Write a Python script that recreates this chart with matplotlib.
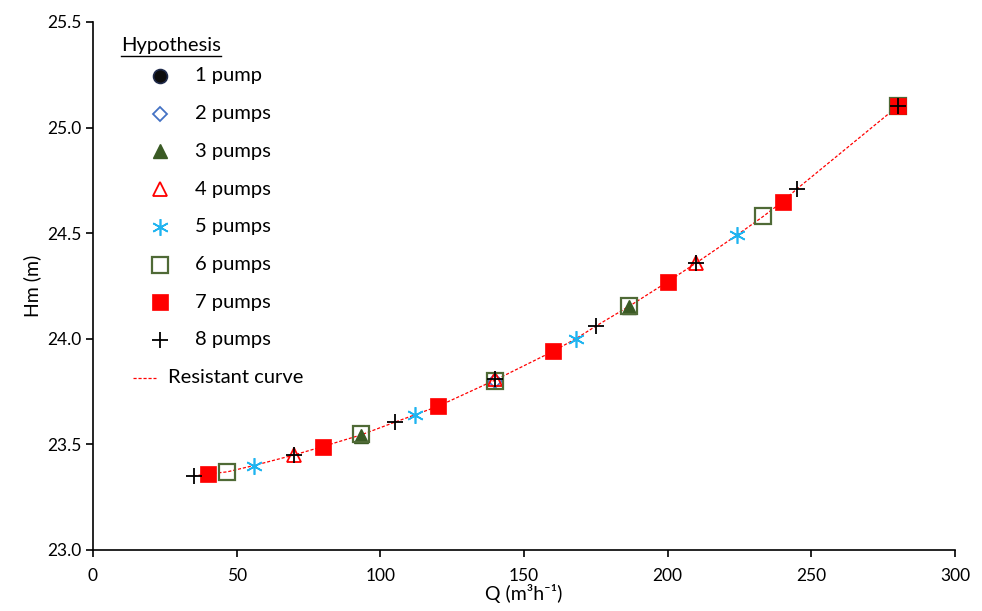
import matplotlib
matplotlib.use("Agg")
import matplotlib.pyplot as plt
from matplotlib.lines import Line2D

# ---- data ----
q1 = [280]
h1 = [25.10]
q2 = [140, 280]
h2 = [23.80, 25.10]
q3 = [93.3, 186.7, 280]
h3 = [23.54, 24.15, 25.10]
q4 = [70, 140, 210, 280]
h4 = [23.45, 23.81, 24.36, 25.10]
q5 = [56, 112, 168, 224, 280]
h5 = [23.40, 23.64, 24.00, 24.49, 25.10]
q6 = [46.7, 93.3, 140, 186.7, 233.3, 280]
h6 = [23.37, 23.55, 23.80, 24.155, 24.58, 25.10]
q7 = [40, 80, 120, 160, 200, 240, 280]
h7 = [23.36, 23.49, 23.68, 23.94, 24.27, 24.65, 25.10]
q8 = [35, 70, 105, 140, 175, 210, 245, 280]
h8 = [23.35, 23.45, 23.605, 23.81, 24.06, 24.36, 24.71, 25.10]
q_curve = [35, 40, 46.7, 56, 70, 80, 93.3, 105, 112, 120, 140, 160, 168, 175,
           186.7, 200, 210, 224, 233.3, 240, 245, 280]
h_curve = [23.35, 23.36, 23.37, 23.40, 23.45, 23.49, 23.545, 23.605, 23.64, 23.68,
           23.805, 23.94, 24.00, 24.06, 24.155, 24.27, 24.36, 24.49, 24.58, 24.65,
           24.71, 25.10]
labels = ["1 pump", "2 pumps", "3 pumps", "4 pumps", "5 pumps", "6 pumps",
          "7 pumps", "8 pumps"]
x_ticks = [0, 50, 100, 150, 200, 250, 300]
y_ticks = [23.0, 23.5, 24.0, 24.5, 25.0, 25.5]

plt.rcParams['font.family'] = ['Lato', 'DejaVu Sans']

W, H = 982, 611
fig = plt.figure(figsize=(W / 100, H / 100), dpi=100)
ax = fig.add_axes([93 / W, 1 - 550 / H, (955 - 93) / W, (550 - 22) / H])

styles = [
    dict(marker='o', ms=10, mfc='#0d0d0d', mec='#1f2a4a', mew=1.2, ls='none'),
    dict(marker='D', ms=7, mfc='none', mec='#4472C4', mew=1.3, ls='none'),
    dict(marker='^', ms=10, mfc='#3a5a24', mec='#3a5a24', mew=1.0, ls='none'),
    dict(marker='^', ms=10, mfc='none', mec='#ff0000', mew=1.3, ls='none'),
    dict(marker=(6, 2, 0), ms=12, mfc='none', mec='#1fb4f0', mew=1.2, ls='none'),
    dict(marker='s', ms=11, mfc='none', mec='#4f6a36', mew=1.6, ls='none'),
    dict(marker='s', ms=11, mfc='#ff0000', mec='#ff0000', mew=0.5, ls='none'),
    dict(marker='+', ms=11, mfc='none', mec='#000000', mew=1.3, ls='none'),
]
curve_style = dict(color='#ff0000', lw=0.9, ls=(0, (2.5, 1.5)))

ax.plot(q_curve, h_curve, zorder=2, **curve_style)
data = [(q1, h1), (q2, h2), (q3, h3), (q4, h4), (q5, h5), (q6, h6), (q7, h7), (q8, h8)]
for i, ((q, h), st) in enumerate(zip(data, styles)):
    ax.plot(q, h, zorder=3 + i, **st)

ax.set_xlim(0, 300)
ax.set_ylim(23.0, 25.5)
ax.set_xticks(x_ticks)
ax.set_yticks(y_ticks)
ax.set_xticklabels([str(v) for v in x_ticks])
ax.set_yticklabels([f"{v:.1f}" for v in y_ticks])
for s in ['top', 'right']:
    ax.spines[s].set_visible(False)
for s in ['left', 'bottom']:
    ax.spines[s].set_linewidth(1.2)
ax.tick_params(axis='both', direction='out', length=5, width=1.2, labelsize=12.5)
ax.tick_params(axis='x', pad=8)
ax.set_xlabel("Q (m³h⁻¹)", fontsize=14, labelpad=0)
ax.set_ylabel("Hm (m)", fontsize=14, labelpad=4)

# ---- manual legend (Excel-like) ----
def fx(px):
    return px / W

def fy(py):
    return 1 - py / H

t = fig.text(fx(121), fy(46), "Hypothesis", fontsize=14.5, va='center', ha='left')
fig.canvas.draw()
bb = t.get_window_extent()
fig.add_artist(Line2D([bb.x0 / W, bb.x1 / W], [fy(56), fy(56)],
                      transform=fig.transFigure, color='black', lw=1))
row0 = 76
step = 37.7
for i, (lab, st) in enumerate(zip(labels, styles)):
    y = row0 + i * step
    fig.add_artist(Line2D([fx(160)], [fy(y)], transform=fig.transFigure, **st))
    fig.text(fx(195), fy(y), lab, fontsize=14.5, va='center', ha='left')
y = row0 + 8 * step
fig.add_artist(Line2D([fx(133), fx(156)], [fy(y), fy(y)], transform=fig.transFigure,
                      **curve_style))
fig.text(fx(168), fy(y), "Resistant curve", fontsize=14.5, va='center', ha='left')

fig.savefig("out.png", dpi=100)
